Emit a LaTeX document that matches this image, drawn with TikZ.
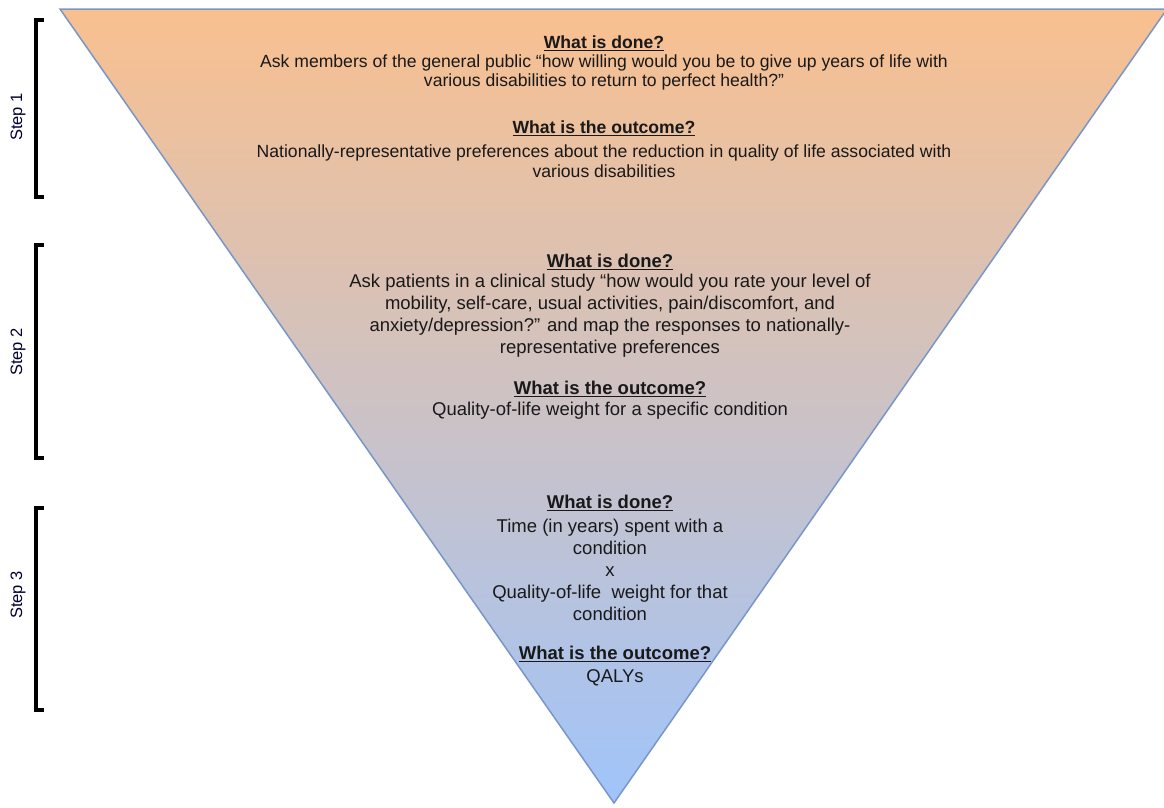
\documentclass[tikz,border=0pt]{standalone}
\usepackage{fontspec}
\setmainfont{Liberation Sans}
\begin{document}
\begin{tikzpicture}[x=1pt,y=-1pt,
  txt/.style={text=black!90, inner sep=0pt, align=center},
  hdone/.style={txt, font=\fontsize{17.6}{19.5}\selectfont\bfseries},
  bdone/.style={txt, font=\fontsize{17.6}{19.5}\selectfont},
  hd/.style={txt, font=\fontsize{18.5}{22}\selectfont\bfseries},
  bd/.style={txt, font=\fontsize{18.5}{22}\selectfont},
  steplabel/.style={rotate=90, inner sep=0pt, text=black!80!blue, font=\fontsize{16.5}{18}\selectfont},
  bracketline/.style={line width=3.2pt, black, line cap=butt}
]
\useasboundingbox (0,0) rectangle (1164,807);
\definecolor{topc}{RGB}{249,192,143}
\definecolor{midc}{RGB}{214,191,204}
\definecolor{botc}{RGB}{160,196,250}
\definecolor{edgec}{RGB}{120,150,200}
% triangle
\coordinate (tl) at (60,9);
\coordinate (tr) at (1167,9);
\coordinate (ap) at (614,803);
\shade[top color=topc, middle color=midc, bottom color=botc] (tl) -- (tr) -- (ap) -- cycle;
\draw[edgec, line width=1.5pt, line join=miter] (tl) -- (tr) -- (ap) -- cycle;

% brackets
\coordinate (b1t) at (36,20);  \coordinate (b1b) at (36,197);
\coordinate (b2t) at (36,245); \coordinate (b2b) at (36,458);
\coordinate (b3t) at (36,508); \coordinate (b3b) at (36,710);
\foreach \t/\b in {b1t/b1b,b2t/b2b,b3t/b3b}{
  \draw[bracketline] ([xshift=8pt]\t) -- (\t) -- (\b) -- ([xshift=8pt]\b);
}
\node[steplabel] (s1) at (18,117) {Step 1};
\node[steplabel] (s2) at (18,352) {Step 2};
\node[steplabel] (s3) at (18,595) {Step 3};

% step 1
\node[hdone] (h1a) at (604,43) {\underline{What is done?}};
\node[bdone] (t1a) at (604,72.5) {Ask members of the general public “how willing would you be to give up years of life with\\various disabilities to return to perfect health?”};
\node[hdone] (h1b) at (604,128) {\underline{What is the outcome?}};
\node[bdone] (t1b) at (604,161) {Nationally-representative preferences about the reduction in quality of life associated with\\various disabilities};

% step 2
\node[hd] (h2a) at (610,262) {\underline{What is done?}};
\node[bd] (t2a) at (610,315.5) {Ask patients in a clinical study “how would you rate your level of\\mobility, self-care, usual activities, pain/discomfort, and\\anxiety/depression?” and map the responses to nationally-\\representative preferences};
\node[hd] (h2b) at (610,389) {\underline{What is the outcome?}};
\node[bd] (t2b) at (610,411) {Quality-of-life weight for a specific condition};

% step 3
\node[hd] (h3a) at (610,503) {\underline{What is done?}};
\node[bd] (t3a) at (610,570) {Time (in years) spent with a\\condition\\x\\Quality-of-life\ \ weight for that\\condition};
\node[hd] (h3b) at (615,654) {\underline{What is the outcome?}};
\node[bd] (t3b) at (615,678) {QALYs};
\end{tikzpicture}
\end{document}
